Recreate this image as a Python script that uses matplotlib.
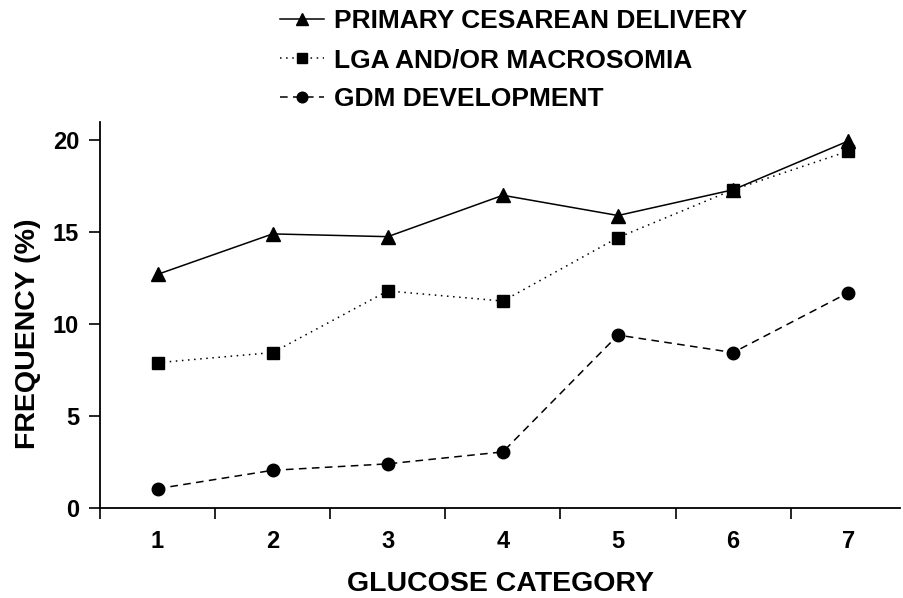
import matplotlib
matplotlib.use('Agg')
from matplotlib import pyplot as plt

categories = [1, 2, 3, 4, 5, 6, 7]
cesarean = [12.7, 14.9, 14.75, 17.0, 15.9, 17.3, 19.95]
lga = [7.9, 8.45, 11.8, 11.25, 14.7, 17.3, 19.4]
gdm = [1.05, 2.05, 2.4, 3.05, 9.4, 8.45, 11.7]

plt.rcParams['font.family'] = ['Liberation Sans', 'DejaVu Sans']
plt.rcParams['font.weight'] = 'bold'

fig = plt.figure(figsize=(9.04, 5.98), dpi=100)
ax = fig.add_axes([0.1106, 0.1505, 0.885, 0.646])

ax.plot(categories, cesarean, color='black', lw=1.1, ls='-', marker='^', ms=10,
        label='PRIMARY CESAREAN DELIVERY')
ax.plot(categories, lga, color='black', lw=1.1, ls=(0, (1, 3)), marker='s', ms=9,
        label='LGA AND/OR MACROSOMIA')
ax.plot(categories, gdm, color='black', lw=1.1, ls=(0, (5, 3.5)), marker='o', ms=9,
        label='GDM DEVELOPMENT')

ax.set_xlim(0.5, 7.45)
ax.set_ylim(0, 21)
ax.spines['top'].set_visible(False)
ax.spines['right'].set_visible(False)
for s in ['left', 'bottom']:
    ax.spines[s].set_linewidth(1.3)

# ticks sit between categories, labels under the points
ax.set_xticks([x - 0.5 for x in categories])
ax.set_xticklabels([])
ax.set_xticks(categories, minor=True)
ax.set_xticklabels([str(c) for c in categories], minor=True, fontsize=17,
                   fontweight='bold')
ax.tick_params(axis='x', which='major', direction='out', length=8, width=1.2)
ax.tick_params(axis='x', which='minor', length=0, pad=16)
ax.set_yticks([0, 5, 10, 15, 20])
ax.tick_params(axis='y', direction='out', length=8, width=1.2, labelsize=17, pad=7)
for t in ax.get_yticklabels():
    t.set_fontweight('bold')

ax.set_xlabel('GLUCOSE CATEGORY', fontsize=20.5, fontweight='bold', labelpad=13)
ax.set_ylabel('FREQUENCY (%)', fontsize=20.5, fontweight='bold')
ax.yaxis.set_label_coords(-0.074, 0.45)

fig.legend(loc='upper left', bbox_to_anchor=(0.283, 1.025), frameon=False,
           handlelength=1.7, handletextpad=0.35, labelspacing=0.58,
           prop={'weight': 'bold', 'size': 19}, markerscale=0.85)

fig.savefig('out.png', dpi=100)
